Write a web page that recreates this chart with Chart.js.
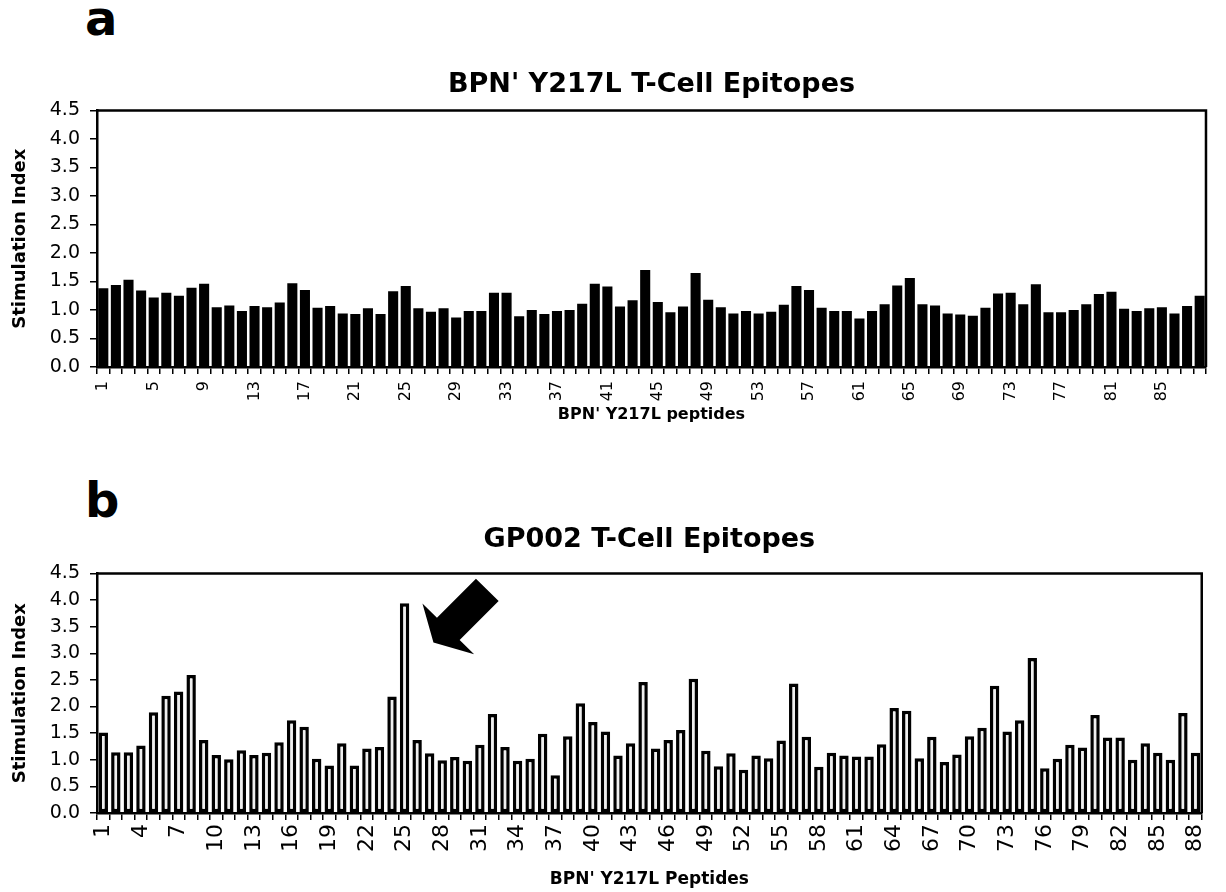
<!DOCTYPE html>
<html>
<head>
<meta charset="utf-8">
<script src="https://cdn.jsdelivr.net/npm/chart.js@4.4.1/dist/chart.umd.min.js"></script>
<style>
  html, body { margin: 0; padding: 0; background: #fff; }
  body { width: 1226px; height: 892px; position: relative; overflow: hidden; }
  .panel { position: absolute; left: 0; }
  .tag { position: absolute; font-family: 'DejaVu Sans', sans-serif; font-weight: bold; font-size: 48px; line-height: 48px; color: #000; }
</style>
</head>
<body>
<div class="tag" style="left:85px; top:-6px;">a</div>
<div class="panel" style="top:0px;"><canvas id="chartA" width="1226" height="430"></canvas></div>
<div class="tag" style="left:85px; top:476px;">b</div>
<div class="panel" style="top:440px;"><canvas id="chartB" width="1226" height="452"></canvas></div>
<script>
// ---- Data ----
const peptides = ['1','2','3','4','5','6','7','8','9','10','11','12','13','14','15','16','17','18','19','20',
  '21','22','23','24','25','26','27','28','29','30','31','32','33','34','35','36','37','38','39','40',
  '41','42','43','44','45','46','47','48','49','50','51','52','53','54','55','56','57','58','59','60',
  '61','62','63','64','65','66','67','68','69','70','71','72','73','74','75','76','77','78','79','80',
  '81','82','83','84','85','86','87','88'];

const bpnStimulation = [1.38,1.44,1.53,1.34,1.22,1.30,1.25,1.39,1.46,1.05,
  1.08,0.98,1.07,1.05,1.13,1.47,1.35,1.04,1.07,0.94,
  0.93,1.03,0.93,1.33,1.42,1.03,0.97,1.03,0.87,0.98,
  0.98,1.30,1.30,0.89,1.00,0.93,0.98,1.00,1.11,1.46,
  1.41,1.06,1.17,1.70,1.14,0.96,1.06,1.65,1.18,1.05,
  0.94,0.98,0.94,0.97,1.09,1.42,1.35,1.04,0.98,0.98,
  0.85,0.98,1.10,1.43,1.56,1.10,1.08,0.94,0.92,0.90,
  1.04,1.29,1.30,1.10,1.45,0.96,0.96,1.00,1.10,1.28,
  1.32,1.02,0.98,1.03,1.05,0.94,1.07,1.25];

const gp002Stimulation = [1.51,1.14,1.14,1.27,1.89,2.20,2.28,2.59,1.37,1.09,
  1.01,1.18,1.09,1.13,1.33,1.74,1.62,1.02,0.89,1.31,
  0.89,1.21,1.24,2.19,3.94,1.37,1.12,0.99,1.05,0.98,
  1.28,1.86,1.24,0.98,1.02,1.49,0.71,1.44,2.06,1.71,
  1.53,1.08,1.31,2.46,1.21,1.37,1.56,2.52,1.17,0.88,
  1.12,0.81,1.08,1.03,1.36,2.43,1.43,0.87,1.13,1.08,
  1.06,1.06,1.29,1.97,1.92,1.03,1.43,0.96,1.10,1.44,
  1.60,2.39,1.53,1.74,2.91,0.84,1.02,1.28,1.23,1.84,
  1.42,1.42,1.00,1.31,1.13,1.00,1.88,1.13];

const tickLabelsA = ['1','5','9','13','17','21','25','29','33','37','41','45','49','53','57','61','65','69','73','77','81','85'];
const tickLabelsB = ['1','4','7','10','13','16','19','22','25','28','31','34','37','40','43','46','49','52','55','58','61','64','67','70','73','76','79','82','85','88'];
const yTicks = ['0.0','0.5','1.0','1.5','2.0','2.5','3.0','3.5','4.0','4.5'];

// Arrow annotation target (category index, value) in panel b
const arrowTip = { x: 26.3, y: 3.2 };

// ---- Plugins ----
const framePlugin = {
  id: 'frame',
  afterDatasetsDraw(chart) {
    const { ctx, chartArea: { left, top, right, bottom } } = chart;
    ctx.save();
    ctx.strokeStyle = '#000';
    ctx.lineWidth = 2.5;
    ctx.beginPath();
    ctx.moveTo(left, top);
    ctx.lineTo(right, top);
    ctx.lineTo(right, bottom);
    ctx.stroke();
    ctx.restore();
  }
};

const arrowPlugin = {
  id: 'blockArrow',
  afterDatasetsDraw(chart, args, opts) {
    if (!opts || !opts.tip) return;
    const ctx = chart.ctx;
    const tx = chart.scales.x.getPixelForValue(opts.tip.x);
    const ty = chart.scales.y.getPixelForValue(opts.tip.y);
    // shape offsets relative to tip (pixels)
    const shape = [[0,0],[-11,-39],[3.5,-24.8],[42.5,-63.8],[65.2,-41.6],[26.2,-2.6],[40.7,11.6]];
    ctx.save();
    ctx.fillStyle = '#000';
    ctx.beginPath();
    shape.forEach(([dx, dy], i) => {
      if (i === 0) ctx.moveTo(tx + dx, ty + dy); else ctx.lineTo(tx + dx, ty + dy);
    });
    ctx.closePath();
    ctx.fill();
    ctx.restore();
  }
};

function makeChart(id, opts) {
  return new Chart(document.getElementById(id), {
    type: 'bar',
    data: {
      labels: peptides,
      datasets: [{
        data: opts.values,
        backgroundColor: opts.fill,
        borderColor: '#000',
        borderWidth: opts.border,
        borderSkipped: false,
        barPercentage: opts.barPct,
        categoryPercentage: 1.0
      }]
    },
    options: {
      responsive: false,
      animation: false,
      devicePixelRatio: 1,
      layout: { padding: { left: 0, right: 4, top: 0, bottom: 0 } },
      plugins: {
        legend: { display: false },
        tooltip: { enabled: false },
        title: {
          display: true,
          text: opts.title,
          fullSize: false,
          color: '#000',
          font: { family: 'DejaVu Sans', weight: 'bold', size: 27 },
          padding: opts.titlePad
        },
        blockArrow: opts.arrow || {}
      },
      scales: {
        x: {
          grid: { display: true, drawOnChartArea: false, drawTicks: true, tickLength: 7, color: '#000', lineWidth: 1.5, offset: true },
          border: { display: true, color: '#000', width: 2.5 },
          ticks: {
            autoSkip: false, maxRotation: 90, minRotation: 90, color: '#000', padding: opts.xTickPad,
            font: { family: 'DejaVu Sans', size: opts.xTickSize },
            callback: function (v, i) { const l = peptides[i]; return opts.tickLabels.includes(l) ? l : ''; }
          },
          title: {
            display: true, text: opts.xTitle, color: '#000',
            font: { family: 'DejaVu Sans', weight: 'bold', size: opts.xTitleSize },
            padding: { top: 0, bottom: opts.xTitleBottom }
          },
          afterFit(scale) { scale.height = opts.xHeight; }
        },
        y: {
          min: 0, max: 4.5,
          grid: { display: true, drawOnChartArea: false, drawTicks: true, tickLength: 7, color: '#000', lineWidth: 1.5 },
          border: { display: true, color: '#000', width: 2.5 },
          ticks: {
            stepSize: 0.5, color: '#000', padding: 10,
            font: { family: 'DejaVu Sans', size: 19 },
            callback: function (v) { return yTicks[Math.round(v * 2)]; }
          },
          title: {
            display: true, text: 'Stimulation Index', color: '#000',
            font: { family: 'DejaVu Sans', weight: 'bold', size: 18 },
            padding: { top: 10, bottom: 0 }
          },
          afterFit(scale) { scale.width = 97; }
        }
      }
    },
    plugins: opts.arrow ? [framePlugin, arrowPlugin] : [framePlugin]
  });
}

makeChart('chartA', {
  values: bpnStimulation, fill: '#000', border: 0, barPct: 0.8,
  title: "BPN' Y217L T-Cell Epitopes", titlePad: { top: 69, bottom: 9 },
  tickLabels: tickLabelsA, xTickSize: 16, xTickPad: 7,
  xTitle: "BPN' Y217L peptides", xTitleSize: 16, xTitleBottom: 6, xHeight: 63
});

makeChart('chartB', {
  values: gp002Stimulation, fill: '#efefef', border: 3.5, barPct: 0.75,
  title: 'GP002 T-Cell Epitopes', titlePad: { top: 84, bottom: 17 },
  tickLabels: tickLabelsB, xTickSize: 22, xTickPad: 4,
  xTitle: "BPN' Y217L Peptides", xTitleSize: 17, xTitleBottom: 2, xHeight: 79,
  arrow: { tip: arrowTip }
});
</script>
</body>
</html>
